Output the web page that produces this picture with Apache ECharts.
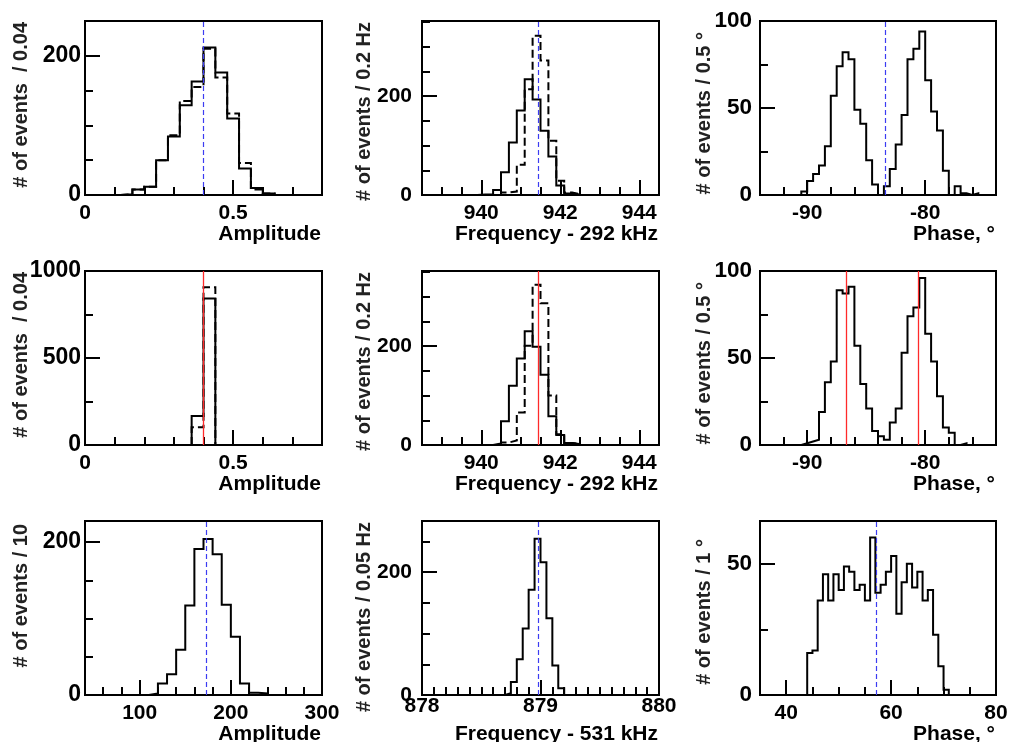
<!DOCTYPE html>
<html>
<head>
<meta charset="utf-8">
<script src="https://cdn.jsdelivr.net/npm/echarts@6/dist/echarts.min.js"></script>
<style>
  html, body { margin: 0; padding: 0; background: #fff; }
  #chart { width: 1010px; height: 742px; }
</style>
</head>
<body>
<div id="chart"></div>
<script>
// ---------- bin contents (events per bin) ----------
// Row 1: first data set
const amp1Start = 0.12, amp1Width = 0.04;
const amp1Solid  = [1, 8, 12, 50, 84, 129, 163, 212, 176, 110, 38, 10, 2];
const amp1Dashed = [1, 8, 12, 50, 86, 135, 155, 210, 169, 117, 46, 8, 2];
const amp1Marks  = [0.399];

const freq1Start = 939.9, freq1DashStart = 940.5, freq1Width = 0.2;
const freq1Solid  = [1, 1, 10, 46, 106, 171, 234, 193, 130, 78, 19, 3, 1];
const freq1Dashed = [5, 7, 61, 214, 322, 272, 110, 29, 5, 2];
const freq1Marks  = [941.44];

const phase1Start = -90.5, phase1Width = 0.5;
const phase1Solid = [2, 8, 12, 17, 28, 57, 74, 82, 78, 49, 41, 20, 6, 0, 5,
                     15, 29, 46, 78, 84, 94, 66, 48, 37, 14, 0, 5, 1, 0, 1];
const phase1Marks = [-83.35];

// Row 2: second data set
const amp2Start = 0.36, amp2Width = 0.04;
const amp2Solid  = [167, 842];
const amp2Dashed = [102, 906];
const amp2Marks  = [0.402];

const freq2Start = 940.3, freq2DashStart = 940.5, freq2Width = 0.2;
const freq2Solid  = [3, 48, 120, 175, 230, 199, 142, 58, 20, 4, 2];
const freq2Dashed = [5, 9, 66, 201, 324, 287, 100, 22, 4, 2];
const freq2Marks  = [941.44];

const phase2Start = -90.5, phase2Width = 0.5;
const phase2Solid = [1, 2, 3, 19, 36, 48, 89, 87, 91, 57, 35, 21, 8, 5,
                     3, 13, 21, 53, 74, 79, 96, 64, 48, 28, 10, 7, 0, 1];
const phase2Marks = [-86.66, -80.55];

// Row 3: 531 kHz line
const amp3Start = 110, amp3Width = 10;
const amp3Solid = [2, 15, 27, 59, 117, 191, 204, 184, 118, 76, 15, 3, 2];
const amp3Marks = [173.5];

const freq3Start = 878.7, freq3Width = 0.05;
const freq3Solid = [3, 21, 58, 108, 171, 254, 216, 125, 48, 11];
const freq3Marks = [878.98];

const phase3Start = 44, phase3Width = 1;
const phase3Solid = [16, 17, 36, 46, 36, 46, 40, 49, 47, 40, 42, 36, 60, 39,
                     42, 47, 53, 31, 43, 50, 41, 47, 36, 40, 23, 11, 2];
const phase3Marks = [57.1];

// ---------- helpers ----------
const FONT = '"Liberation Sans", Arial, Helvetica, sans-serif';
const BLUE = '#3c3cf2';
const RED = '#ff2a2a';

// outline of a histogram as a polyline of (x, count) corners
function outline(start, width, counts) {
  const pts = [[start, 0]];
  counts.forEach((c, i) => {
    const lo = start + i * width;
    pts.push([lo, c], [lo + width, c]);
  });
  pts.push([start + counts.length * width, 0]);
  return pts;
}

// label only the values lying on the major step
function stepLabel(step, decimals) {
  return function (v) {
    const q = v / step;
    if (Math.abs(q - Math.round(q)) > 1e-6) return '';
    return String(+v.toFixed(decimals));
  };
}

const COLS = [
  { left: 85,  width: 237, yLabelGap: 4,  yLabelSize: 23, yNameDist: 63.6 },
  { left: 422, width: 237, yLabelGap: 10, yLabelSize: 21, yNameDist: 57.3 },
  { left: 760, width: 236, yLabelGap: 8,  yLabelSize: 22.5, yNameDist: 56 }
];
const ROWS = [21, 271, 521];
const PANEL_H = 174;

const grids = [], xAxes = [], yAxes = [], series = [], titles = [];
const tickLine = { color: '#000', width: 2 };

function labelStyle(size) {
  return { color: '#000', fontFamily: FONT, fontWeight: 'bold', fontSize: size };
}

function addPanel(p) {
  const col = COLS[p.col];
  const top = ROWS[p.row];
  const gi = grids.length;
  grids.push({
    left: col.left, top: top, width: col.width, height: PANEL_H,
    show: true, borderColor: '#000', borderWidth: 2, backgroundColor: 'transparent',
    containLabel: false, outerBoundsMode: 'none'
  });
  const xi = xAxes.length, yi = yAxes.length;
  const [xmin, xmax, xMajor, xMinor, xDec] = p.x;
  const [ymin, ymax, yMajor, yMinor] = p.y;

  // major x ticks + labels
  xAxes.push({
    type: 'value', gridIndex: gi, position: 'bottom', min: xmin, max: xmax,
    minInterval: xMajor, maxInterval: xMajor,
    axisLine: { show: false, onZero: false }, splitLine: { show: false },
    axisTick: { inside: true, length: 15, lineStyle: tickLine },
    axisLabel: Object.assign({ margin: p.xLabelGap ?? 8, formatter: stepLabel(xMajor, xDec) }, labelStyle(21))
  });
  // minor x ticks
  xAxes.push({
    type: 'value', gridIndex: gi, position: 'bottom', min: xmin, max: xmax,
    minInterval: xMinor, maxInterval: xMinor,
    axisLine: { show: false, onZero: false }, splitLine: { show: false },
    axisTick: { inside: true, length: 8, lineStyle: tickLine },
    axisLabel: { show: false }
  });
  // major y ticks + labels
  yAxes.push({
    type: 'value', gridIndex: gi, position: 'left', min: ymin, max: ymax,
    minInterval: yMajor, maxInterval: yMajor,
    axisLine: { show: false, onZero: false }, splitLine: { show: false },
    axisTick: { inside: true, length: 15, lineStyle: tickLine },
    axisLabel: Object.assign({ margin: col.yLabelGap, formatter: stepLabel(yMajor, 0) }, labelStyle(col.yLabelSize))
  });
  // minor y ticks
  yAxes.push({
    type: 'value', gridIndex: gi, position: 'left', min: ymin, max: ymax,
    minInterval: yMinor, maxInterval: yMinor,
    axisLine: { show: false, onZero: false }, splitLine: { show: false },
    axisTick: { inside: true, length: 8, lineStyle: tickLine },
    axisLabel: { show: false }
  });

  // axis titles: x title right-aligned under the frame, y title read upwards
  titles.push({
    type: 'text', silent: true, z: 10,
    x: col.left + col.width - 1, y: top + PANEL_H + 39,
    style: { text: p.xName, fill: '#000', font: 'bold 21px ' + FONT, align: 'right', verticalAlign: 'middle' }
  });
  titles.push({
    type: 'text', silent: true, z: 10,
    x: col.left - (p.yNameDist ?? col.yNameDist), y: top + p.yNameDrop,
    rotation: Math.PI / 2,
    style: { text: p.yName, fill: '#222', font: 'bold 20px ' + FONT, align: 'right', verticalAlign: 'middle' }
  });

  p.hists.forEach((h, k) => {
    const s = {
      type: 'line', xAxisIndex: xi, yAxisIndex: yi,
      data: outline(h.start, h.width, h.counts),
      symbol: 'none', showSymbol: false, silent: true, animation: false,
      emphasis: { disabled: true },
      lineStyle: { color: '#000', width: 2, type: h.dashed ? [8, 4] : 'solid', cap: 'butt', join: 'miter' },
      z: 3
    };
    if (k === p.hists.length - 1) {
      s.markLine = {
        silent: true, animation: false, symbol: ['none', 'none'],
        label: { show: false },
        lineStyle: p.markRed
          ? { color: RED, width: 1.3, type: 'solid' }
          : { color: BLUE, width: 1.2, type: [5, 3] },
        data: p.marks.map(v => ({ xAxis: v }))
      };
    }
    series.push(s);
  });
}

// ---------- the nine panels ----------
const AMP_X = [0, 0.8, 0.5, 0.1, 1];
const F292_X = [938.5, 944.5, 2, 0.5, 0];
const PH_X = [-94, -74, 10, 2, 0];

addPanel({ row: 0, col: 0, x: AMP_X, y: [0, 250, 200, 50],
  xName: 'Amplitude', yName: '# of events  / 0.04', yNameDrop: 1, marks: amp1Marks,
  hists: [{ start: amp1Start, width: amp1Width, counts: amp1Dashed, dashed: true },
          { start: amp1Start, width: amp1Width, counts: amp1Solid }] });
addPanel({ row: 0, col: 1, x: F292_X, y: [0, 352, 200, 50],
  xName: 'Frequency - 292 kHz', yName: '# of events / 0.2 Hz', yNameDrop: 1, marks: freq1Marks,
  hists: [{ start: freq1DashStart, width: freq1Width, counts: freq1Dashed, dashed: true },
          { start: freq1Start, width: freq1Width, counts: freq1Solid }] });
addPanel({ row: 0, col: 2, x: PH_X, y: [0, 100, 50, 25],
  xName: 'Phase, \u00b0', yName: '# of events / 0.5 \u00b0', yNameDrop: 11, marks: phase1Marks,
  hists: [{ start: phase1Start, width: phase1Width, counts: phase1Solid }] });

addPanel({ row: 1, col: 0, x: AMP_X, y: [0, 1000, 500, 250],
  xName: 'Amplitude', yName: '# of events  / 0.04', yNameDrop: 1, marks: amp2Marks, markRed: true,
  hists: [{ start: amp2Start, width: amp2Width, counts: amp2Dashed, dashed: true },
          { start: amp2Start, width: amp2Width, counts: amp2Solid }] });
addPanel({ row: 1, col: 1, x: F292_X, y: [0, 352, 200, 50],
  xName: 'Frequency - 292 kHz', yName: '# of events / 0.2 Hz', yNameDrop: 1, marks: freq2Marks, markRed: true,
  hists: [{ start: freq2DashStart, width: freq2Width, counts: freq2Dashed, dashed: true },
          { start: freq2Start, width: freq2Width, counts: freq2Solid }] });
addPanel({ row: 1, col: 2, x: PH_X, y: [0, 100, 50, 25],
  xName: 'Phase, \u00b0', yName: '# of events / 0.5 \u00b0', yNameDrop: 11, marks: phase2Marks, markRed: true,
  hists: [{ start: phase2Start, width: phase2Width, counts: phase2Solid }] });

addPanel({ row: 2, col: 0, x: [40, 300, 100, 20, 0], y: [0, 227.5, 200, 50],
  xName: 'Amplitude', yName: '# of events / 10', yNameDrop: 3, marks: amp3Marks,
  hists: [{ start: amp3Start, width: amp3Width, counts: amp3Solid }] });
addPanel({ row: 2, col: 1, x: [878, 880, 1, 0.1, 0], y: [0, 283, 200, 50], xLabelGap: 1, yNameDist: 58,
  xName: 'Frequency - 531 kHz', yName: '# of events / 0.05 Hz', yNameDrop: 1, marks: freq3Marks,
  hists: [{ start: freq3Start, width: freq3Width, counts: freq3Solid }] });
addPanel({ row: 2, col: 2, x: [35, 80, 20, 5, 0], y: [0, 66.3, 50, 25],
  xName: 'Phase, \u00b0', yName: '# of events / 1 \u00b0', yNameDrop: 18, marks: phase3Marks,
  hists: [{ start: phase3Start, width: phase3Width, counts: phase3Solid }] });

const chart = echarts.init(document.getElementById('chart'), null, { renderer: 'canvas' });
chart.setOption({
  animation: false,
  backgroundColor: '#fff',
  grid: grids,
  xAxis: xAxes,
  yAxis: yAxes,
  series: series,
  graphic: titles
});
</script>
</body>
</html>
